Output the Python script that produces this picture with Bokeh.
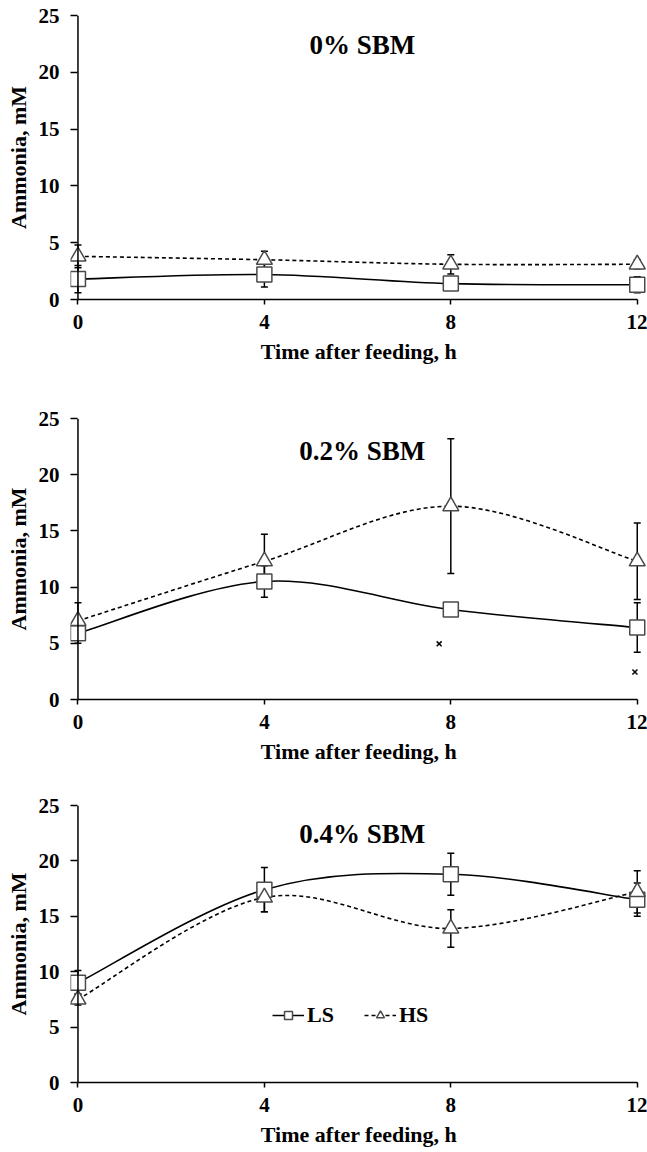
from bokeh.plotting import figure
from bokeh.models import (ColumnDataSource, Range1d, Whisker, TeeHead, Label,
                          Legend, LegendItem, FixedTicker, Span)
from bokeh.layouts import column
from bokeh.embed import file_html
from bokeh.resources import INLINE

hours = [0, 4, 8, 12]
panel_titles = ["0% SBM", "0.2% SBM", "0.4% SBM"]
y_ticks = [0, 5, 10, 15, 20, 25]

ls_0 = [1.8, 2.2, 1.4, 1.3]
ls_0_err = [1.2, 1.1, 0.4, 0.7]
hs_0 = [3.8, 3.5, 3.1, 3.1]
hs_0_err = [1.0, 0.75, 0.85, 0.4]

ls_02 = [5.9, 10.5, 8.0, 6.4]
ls_02_err = [0.9, 1.4, 0.4, 2.2]
hs_02 = [7.0, 12.3, 17.2, 12.3]
hs_02_err = [1.6, 2.4, 6.0, 3.4]

ls_04 = [9.0, 17.4, 18.8, 16.5]
ls_04_err = [1.1, 2.0, 1.9, 1.5]
hs_04 = [7.5, 16.7, 13.9, 17.2]
hs_04_err = [0.5, 1.3, 1.7, 1.9]

sig_02_x = [7.75, 11.95]
sig_02_y = [4.95, 2.45]

FONT = "Liberation Serif"
MARK_LINE = "#4a4a4a"


def smooth_source(xs, ys):
    n = len(xs)
    d = dict(x0=[], y0=[], x1=[], y1=[], cx0=[], cy0=[], cx1=[], cy1=[])
    for i in range(n - 1):
        a = max(i - 1, 0)
        b = min(i + 2, n - 1)
        d["x0"].append(xs[i]); d["y0"].append(ys[i])
        d["x1"].append(xs[i + 1]); d["y1"].append(ys[i + 1])
        d["cx0"].append(xs[i] + (xs[i + 1] - xs[a]) / 6)
        d["cy0"].append(ys[i] + (ys[i + 1] - ys[a]) / 6)
        d["cx1"].append(xs[i + 1] - (xs[b] - xs[i]) / 6)
        d["cy1"].append(ys[i + 1] - (ys[b] - ys[i]) / 6)
    return ColumnDataSource(d)


def make_panel(title, title_y, ls, ls_err, hs, hs_err, frame_h, top, bottom,
               legend=False, sig=None):
    p = figure(frame_width=577, frame_height=frame_h,
               x_range=Range1d(-0.16, 12.22), y_range=Range1d(0, 25),
               output_backend="svg", toolbar_location=None,
               min_border_left=70, min_border_right=0,
               min_border_top=top, min_border_bottom=bottom)
    p.outline_line_color = None
    p.grid.visible = False
    p.background_fill_color = "white"

    p.xaxis.ticker = FixedTicker(ticks=hours)
    p.yaxis.ticker = FixedTicker(ticks=y_ticks)
    p.xaxis.bounds = (0, 12)
    for ax in (p.xaxis, p.yaxis):
        ax.axis_line_width = 1.5
        ax.axis_line_color = "black"
        ax.major_tick_line_width = 1.5
        ax.major_tick_line_color = "black"
        ax.minor_tick_line_color = None
        ax.major_label_text_font = FONT
        ax.major_label_text_font_style = "bold"
        ax.major_label_text_font_size = "21px"
        ax.major_label_text_color = "black"
        ax.axis_label_text_font = FONT
        ax.axis_label_text_font_style = "bold"
        ax.axis_label_text_font_size = "22px"
        ax.axis_label_text_color = "black"
    p.xaxis.major_tick_out = 5
    p.xaxis.major_tick_in = 0
    p.yaxis.axis_line_color = None
    p.yaxis.major_tick_out = 0
    p.yaxis.major_tick_in = 7
    p.xaxis.axis_label = "Time after feeding, h"
    p.yaxis.axis_label = "Ammonia, mM"
    p.xaxis.major_label_standoff = 10
    p.xaxis.axis_label_standoff = 7
    p.yaxis.major_label_standoff = 11
    p.yaxis.axis_label_standoff = 5

    p.add_layout(Span(location=0, dimension="height", line_color="black",
                      line_width=1.5))

    ls_src = ColumnDataSource(dict(x=hours, y=ls,
                                   lo=[v - e for v, e in zip(ls, ls_err)],
                                   hi=[v + e for v, e in zip(ls, ls_err)]))
    hs_src = ColumnDataSource(dict(x=hours, y=hs,
                                   lo=[v - e for v, e in zip(hs, hs_err)],
                                   hi=[v + e for v, e in zip(hs, hs_err)]))

    lc = p.bezier(x0="x0", y0="y0", x1="x1", y1="y1", cx0="cx0", cy0="cy0",
                  cx1="cx1", cy1="cy1", source=smooth_source(hours, ls),
                  line_color="black", line_width=1.6)
    hc = p.bezier(x0="x0", y0="y0", x1="x1", y1="y1", cx0="cx0", cy0="cy0",
                  cx1="cx1", cy1="cy1", source=smooth_source(hours, hs),
                  line_color="black", line_width=1.6, line_dash="4 3")

    sq = p.scatter(x="x", y="y", source=ls_src, marker="square", size=15,
                   fill_color="white", line_color=MARK_LINE, line_width=1.5)
    tr = p.scatter(x="x", y="y", source=hs_src, marker="triangle", size=16,
                   fill_color="white", line_color=MARK_LINE, line_width=1.5)

    for src in (ls_src, hs_src):
        w = Whisker(base="x", lower="lo", upper="hi", source=src,
                    line_color="black", line_width=1.5,
                    upper_head=TeeHead(size=7, line_width=1.5, line_color="black"),
                    lower_head=TeeHead(size=7, line_width=1.5, line_color="black"))
        p.add_layout(w)

    if sig is not None:
        p.scatter(x=sig[0], y=sig[1], marker="x", size=7, line_color="black",
                  line_width=1.5)

    p.add_layout(Label(x=6.1, y=title_y, text=title, text_align="center",
                       text_baseline="middle", text_font=FONT,
                       text_font_style="bold", text_font_size="27px",
                       text_color="black"))

    if legend:
        lg = Legend(items=[LegendItem(label="LS", renderers=[lc, sq]),
                           LegendItem(label="HS", renderers=[hc, tr])],
                    orientation="horizontal", location=(202, 54),
                    border_line_color=None, background_fill_alpha=0,
                    glyph_width=32, glyph_height=20, label_standoff=3,
                    spacing=30, padding=0, margin=0,
                    label_text_font=FONT, label_text_font_style="bold",
                    label_text_font_size="22px", label_text_color="black")
        p.add_layout(lg)
    return p


p1 = make_panel(panel_titles[0], 22.4, ls_0, ls_0_err, hs_0, hs_0_err,
                284, 15, 80)
p2 = make_panel(panel_titles[1], 22.15, ls_02, ls_02_err, hs_02, hs_02_err,
                281, 39, 79, sig=(sig_02_x, sig_02_y))
p3 = make_panel(panel_titles[2], 22.4, ls_04, ls_04_err, hs_04, hs_04_err,
                277, 27, 70, legend=True)

layout = column(p1, p2, p3, spacing=0)
open("out.html", "w").write(file_html(layout, INLINE))
